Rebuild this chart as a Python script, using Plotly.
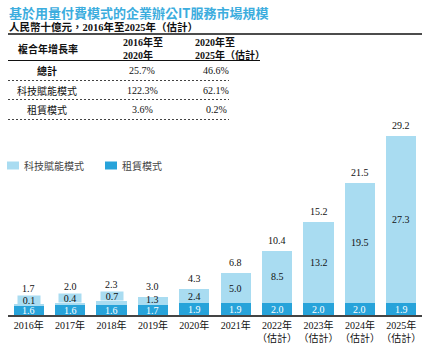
import plotly.graph_objects as go

years = ["2016年", "2017年", "2018年", "2019年", "2020年", "2021年",
         "2022年<br>（估計）", "2023年<br>（估計）", "2024年<br>（估計）", "2025年<br>（估計）"]
tech = [0.1, 0.4, 0.7, 1.3, 2.4, 5.0, 8.5, 13.2, 19.5, 27.3]
lease = [1.6, 1.6, 1.6, 1.7, 1.9, 1.9, 2.0, 2.0, 2.0, 1.9]
total = [1.7, 2.0, 2.3, 3.0, 4.3, 6.8, 10.4, 15.2, 21.5, 29.2]

title = "基於用量付費模式的企業辦公IT服務市場規模"
subtitle = "人民幣十億元，2016年至2025年（估計）"
cagr_header = ["複合年增長率", "2016年至<br>2020年", "2020年至<br>2025年（估計）"]
cagr_rows = ["總計", "科技賦能模式", "租賃模式"]
cagr_1620 = ["25.7%", "122.3%", "3.6%"]
cagr_2025 = ["46.6%", "62.1%", "0.2%"]
series_names = ["科技賦能模式", "租賃模式"]

LIGHT = "#a9dcf1"
DARK = "#27a3da"
TITLE_C = "#3cadde"
FONT = "Liberation Serif, Noto Sans CJK TC, serif"
CJK = "Noto Sans CJK TC, sans-serif"

W, H = 433, 351
L, R, T, B = 8, 11, 130, 36
PW = W - L - R
PH = H - T - B


def px(x):
    return (x - L) / PW


def py(y):
    return (H - B - y) / PH


def note(x, y, text, font, xanchor="center", align="center"):
    return dict(xref="paper", yref="paper", x=px(x), y=py(y), text=text,
                xanchor=xanchor, yanchor="middle", align=align, showarrow=False, font=font)


fig = go.Figure()
fig.add_bar(x=years, y=lease, name=series_names[1], marker_color=DARK, marker_line_width=0)
fig.add_bar(x=years, y=tech, name=series_names[0], marker_color=LIGHT, marker_line_width=0)

num_font = dict(family=FONT, size=10, color="#111")
ann = []
for i, yr in enumerate(years):
    ann.append(dict(x=yr, y=lease[i] / 2, text=f"{lease[i]:.1f}", showarrow=False,
                    font=dict(family=FONT, size=10, color="white"), yshift=-0.5))
    if tech[i] < 1.0:
        ann.append(dict(x=yr, y=total[i], text=f"{tech[i]:.1f}", showarrow=False,
                        yanchor="bottom", width=22, height=8, bgcolor=LIGHT,
                        borderpad=0, font=num_font))
        ann.append(dict(x=yr, y=total[i], text=f"{total[i]:.1f}", showarrow=False,
                        yanchor="bottom", yshift=9, font=num_font))
    else:
        ann.append(dict(x=yr, y=lease[i] + tech[i] / 2, text=f"{tech[i]:.1f}", showarrow=False,
                        yshift=1 if tech[i] < 2 else 0, font=num_font))
        ann.append(dict(x=yr, y=total[i], text=f"{total[i]:.1f}", showarrow=False,
                        yanchor="bottom", yshift=3, font=num_font))

# title and subtitle
ann.append(note(7, 12, f"<b>{title}</b>", dict(family=CJK, size=13, color=TITLE_C), "left", "left"))
ann.append(note(7, 27, f"<b>{subtitle}</b>", dict(family=FONT, size=10.5, color="#111"), "left", "left"))
# table header
ann.append(note(48, 48, f"<b>{cagr_header[0]}</b>", dict(family=CJK, size=10, color="#111")))
ann.append(note(121, 48, f"<b>{cagr_header[1]}</b>", dict(family=FONT, size=10, color="#111"), "left", "left"))
ann.append(note(193, 48, f"<b>{cagr_header[2]}</b>", dict(family=FONT, size=10, color="#111"), "left", "left"))
row_y = [70, 90, 109]
for j, name in enumerate(cagr_rows):
    lab = f"<b>{name}</b>" if j == 0 else name
    ann.append(note(47, row_y[j], lab, dict(family=CJK, size=10, color="#111")))
    ann.append(note(142, row_y[j], cagr_1620[j], num_font))
    ann.append(note(216, row_y[j], cagr_2025[j], num_font))

# legend (manual)
leg_font = dict(family=CJK, size=10, color="#444")
ann.append(note(22, 165, series_names[0], leg_font, "left", "left"))
ann.append(note(120, 165, series_names[1], leg_font, "left", "left"))

shapes = [
    dict(type="line", xref="paper", yref="paper", x0=px(8), x1=px(422), y0=py(34), y1=py(34),
         line=dict(color="#111", width=1.5)),
    dict(type="line", xref="paper", yref="paper", x0=px(8), x1=px(260), y0=py(60.5), y1=py(60.5),
         line=dict(color="#111", width=1)),
    dict(type="rect", xref="paper", yref="paper", x0=px(7), x1=px(19), y0=py(169.5), y1=py(161.5),
         fillcolor=LIGHT, line_width=0),
    dict(type="rect", xref="paper", yref="paper", x0=px(105), x1=px(117), y0=py(169.5), y1=py(161.5),
         fillcolor=DARK, line_width=0),
]
for yy in [80.5, 99.5, 119.5]:
    shapes.append(dict(type="line", xref="paper", yref="paper", x0=px(8), x1=px(229),
                       y0=py(yy), y1=py(yy), line=dict(color="#444", width=1, dash="2px,2px")))

fig.update_layout(
    width=W, height=H, margin=dict(l=L, r=R, t=T, b=B, autoexpand=False),
    barmode="stack", bargap=0.27,
    paper_bgcolor="white", plot_bgcolor="white",
    annotations=ann, shapes=shapes,
    showlegend=False,
    xaxis=dict(showgrid=False, showline=True, linecolor="#444", linewidth=1.5, ticks="",
               tickangle=0, automargin=False, ticklabelstandoff=0,
               tickfont=dict(family=FONT, size=10, color="#111"), fixedrange=True),
    yaxis=dict(range=[0, 30.18], visible=False, fixedrange=True, automargin=False),
)

fig.write_html("out.html")
